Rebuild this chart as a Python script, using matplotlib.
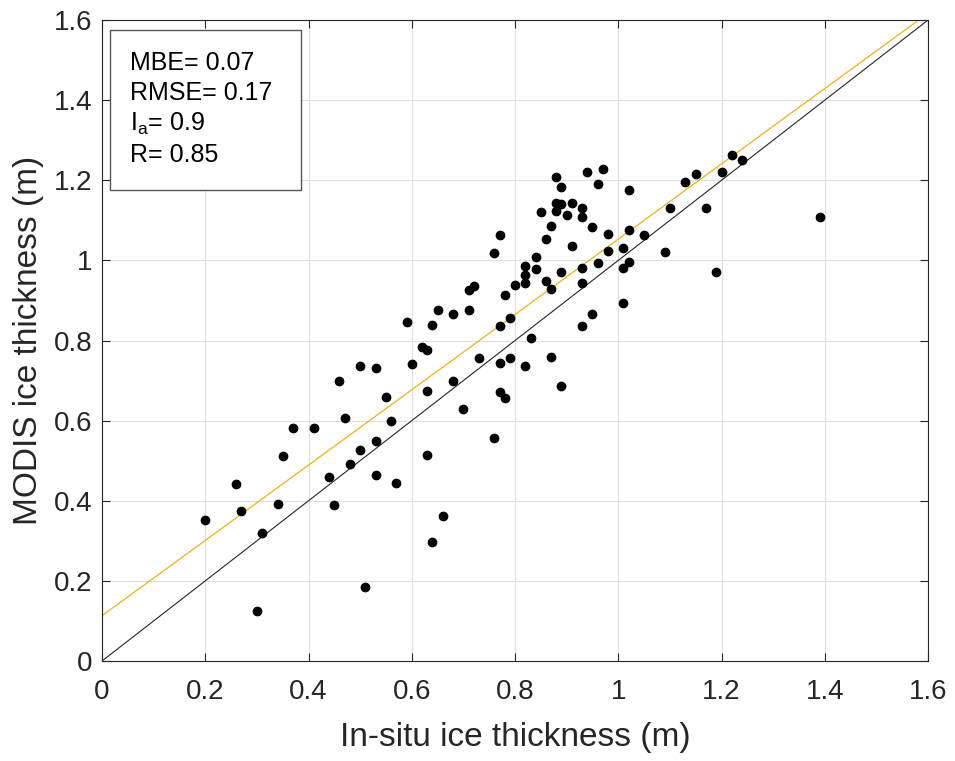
import matplotlib
matplotlib.use("Agg")
import matplotlib.pyplot as plt
from matplotlib.patches import Rectangle
import numpy as np

plt.rcParams['font.family'] = ['Liberation Sans', 'DejaVu Sans']
plt.rcParams['mathtext.default'] = 'regular'

insitu = [0.20, 0.26, 0.27, 0.31, 0.30, 0.34, 0.35, 0.37, 0.41, 0.44,
          0.45, 0.46, 0.47, 0.48, 0.50, 0.50, 0.53, 0.53, 0.53, 0.55,
          0.56, 0.57, 0.51, 0.59, 0.60, 0.62, 0.63, 0.64, 0.65, 0.63,
          0.63, 0.66, 0.64, 0.68, 0.68, 0.70, 0.71, 0.71, 0.72, 0.73,
          0.76, 0.77, 0.78, 0.77, 0.79, 0.80, 0.76, 0.77, 0.79, 0.77,
          0.78, 0.82, 0.83, 0.82, 0.82, 0.82, 0.84, 0.84, 0.86, 0.87,
          0.85, 0.86, 0.87, 0.87, 0.89, 0.88, 0.89, 0.88, 0.89, 0.88,
          0.90, 0.91, 0.91, 0.89, 0.93, 0.93, 0.94, 0.97, 0.96, 0.95,
          0.93, 0.93, 0.96, 0.95, 0.93, 0.98, 0.98, 1.01, 1.01, 1.01,
          1.02, 1.02, 1.02, 1.05, 1.09, 1.10, 1.13, 1.15, 1.17, 1.19,
          1.20, 1.22, 1.24, 1.39]
modis = [0.352, 0.442, 0.375, 0.319, 0.125, 0.392, 0.512, 0.582, 0.582, 0.459,
         0.389, 0.699, 0.607, 0.492, 0.736, 0.527, 0.731, 0.549, 0.464, 0.659,
         0.599, 0.444, 0.185, 0.846, 0.741, 0.784, 0.776, 0.839, 0.876, 0.674,
         0.514, 0.362, 0.297, 0.865, 0.700, 0.629, 0.875, 0.925, 0.935, 0.756,
         1.018, 1.063, 0.914, 0.836, 0.856, 0.938, 0.557, 0.744, 0.756, 0.672,
         0.657, 0.736, 0.806, 0.944, 0.963, 0.986, 0.978, 1.008, 1.053, 1.086,
         1.121, 0.948, 0.928, 0.759, 0.686, 1.208, 1.183, 1.143, 1.141, 1.123,
         1.113, 1.143, 1.036, 0.971, 1.131, 1.108, 1.221, 1.228, 1.191, 1.083,
         0.981, 0.944, 0.993, 0.866, 0.836, 1.066, 1.023, 1.031, 0.981, 0.894,
         1.176, 1.076, 0.996, 1.063, 1.021, 1.131, 1.196, 1.215, 1.131, 0.971,
         1.221, 1.263, 1.251, 1.108]

fit_intercept = 0.113
fit_slope = 0.94
stats_labels = ['MBE= 0.07', 'RMSE= 0.17', '$I_a$= 0.9', 'R= 0.85']
ticks = [0, 0.2, 0.4, 0.6, 0.8, 1, 1.2, 1.4, 1.6]
tick_labels = ['0', '0.2', '0.4', '0.6', '0.8', '1', '1.2', '1.4', '1.6']

fig = plt.figure(figsize=(9.55, 7.61), dpi=100)
ax = fig.add_axes([0.1068, 0.1314, 0.865, 0.8423])

xx = np.array([0, 1.6])
ax.plot(xx, xx, color='#262626', lw=0.8, zorder=2)
ax.plot(xx, fit_intercept + fit_slope * xx, color='#EDB120', lw=0.9, zorder=2)
ax.plot(insitu, modis, 'o', color='black', markersize=6, zorder=3)

ax.set_xlim(0, 1.6)
ax.set_ylim(0, 1.6)
ax.set_xticks(ticks)
ax.set_xticklabels(tick_labels)
ax.set_yticks(ticks)
ax.set_yticklabels(tick_labels)
ax.grid(True, color='#e0e0e0', lw=0.8)
ax.set_axisbelow(True)
ax.tick_params(direction='in', top=True, right=True, length=6, width=0.8,
               labelsize=20, colors='#262626', pad=7)
ax.tick_params(axis='x', pad=13)
for s in ax.spines.values():
    s.set_color('#262626')
    s.set_linewidth(0.8)

ax.set_xlabel('In-situ ice thickness (m)', fontsize=24, color='#262626', labelpad=12)
ax.set_ylabel('MODIS ice thickness (m)', fontsize=24, color='#262626', labelpad=7)

ax.add_patch(Rectangle((0.0097, 0.735), 0.2313, 0.249, transform=ax.transAxes,
                       facecolor='white', edgecolor='#555555', lw=1.0, zorder=5))
ys = [0.933, 0.886, 0.838, 0.790]
for t, y in zip(stats_labels, ys):
    ax.text(0.034, y, t, transform=ax.transAxes, fontsize=18, color='black',
            va='center', ha='left', zorder=6)

fig.savefig('out.png', dpi=100)
